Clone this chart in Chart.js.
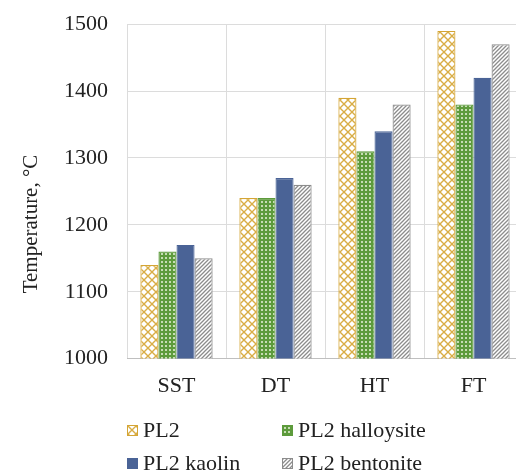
<!DOCTYPE html>
<html>
<head>
<meta charset="utf-8">
<script src="https://cdn.jsdelivr.net/npm/chart.js@4"></script>
<style>
  body { margin: 0; background: #fff; overflow: hidden; }
  #wrap { position: relative; width: 516px; height: 474px; overflow: hidden; }
  #grafica { position: absolute; left: 0; top: -8px; }
  #legend { position: absolute; left: 0; top: 0; width: 516px; height: 474px;
    font-family: "Liberation Serif", serif; font-size: 22px; color: #222; }
  .item { position: absolute; display: flex; align-items: center; white-space: nowrap; height: 26px; }
  .sw { width: 11px; height: 11px; margin-right: 5px; box-sizing: border-box; }
  #tituloY { position: absolute; left: 30px; top: 224px; transform: translate(-50%, -50%) rotate(-90deg);
    white-space: nowrap; font-family: "Liberation Serif", serif; font-size: 21px; color: #222; }
</style>
</head>
<body>
<div id="wrap">
  <canvas id="grafica" width="540" height="474"></canvas>
  <div id="legend"></div>
  <div id="tituloY"></div>
</div>
<script>
const categorias = ["SST", "DT", "HT", "FT"];
const pl2 = [1140, 1240, 1390, 1490];
const pl2Halloysite = [1160, 1240, 1310, 1380];
const pl2Kaolin = [1170, 1270, 1340, 1420];
const pl2Bentonite = [1150, 1260, 1380, 1470];
const ticksY = [1000, 1100, 1200, 1300, 1400, 1500];
const tituloEjeY = "Temperature, °C";

function crearTile(size, dibujar) {
    const c = document.createElement("canvas");
    c.width = size;
    c.height = size;
    dibujar(c.getContext("2d"), size);
    return c;
}

// rombos dorados
const tilePL2 = crearTile(8, (g, s) => {
    g.fillStyle = "#fff";
    g.fillRect(0, 0, s, s);
    g.strokeStyle = "#d9ad45";
    g.lineWidth = 1.4;
    g.beginPath();
    g.moveTo(0, 0); g.lineTo(s, s);
    g.moveTo(s, 0); g.lineTo(0, s);
    g.stroke();
});

// puntos claros sobre verde
const tileHall = crearTile(4, (g, s) => {
    g.fillStyle = "#5d9b3c";
    g.fillRect(0, 0, s, s);
    g.fillStyle = "#c7ddb5";
    g.fillRect(1, 1, 2, 2);
});

// rayas diagonales grises
const tileBent = crearTile(4, (g, s) => {
    g.fillStyle = "#fff";
    g.fillRect(0, 0, s, s);
    g.strokeStyle = "#8c8c8c";
    g.lineWidth = 1.3;
    g.beginPath();
    g.moveTo(-1, s + 1); g.lineTo(s + 1, -1);
    g.moveTo(-1, 1); g.lineTo(1, -1);
    g.moveTo(s - 1, s + 1); g.lineTo(s + 1, s - 1);
    g.stroke();
});

const ctx = document.getElementById("grafica").getContext("2d");
const patPL2 = ctx.createPattern(tilePL2, "repeat");
const patHall = ctx.createPattern(tileHall, "repeat");
const patBent = ctx.createPattern(tileBent, "repeat");

const series = [
    { label: "PL2", data: pl2, fill: patPL2, borde: "#d4a535", tile: tilePL2 },
    { label: "PL2 halloysite", data: pl2Halloysite, fill: patHall, borde: "#5d9b3c", tile: tileHall },
    { label: "PL2 kaolin", data: pl2Kaolin, fill: "#4a6396", borde: "#4a6396", tile: null },
    { label: "PL2 bentonite", data: pl2Bentonite, fill: patBent, borde: "#8c8c8c", tile: tileBent }
];

const fuente = { family: "Liberation Serif", size: 22 };

new Chart(ctx, {
    type: "bar",
    data: {
        labels: categorias,
        datasets: series.map(s => ({
            label: s.label,
            data: s.data,
            backgroundColor: s.fill,
            borderColor: s.borde,
            borderWidth: 1.2,
            borderSkipped: "bottom",
            categoryPercentage: 0.73,
            barPercentage: 1.0
        }))
    },
    options: {
        responsive: false,
        animation: false,
        layout: { padding: { top: 3, right: 17, bottom: 53, left: 45 } },
        plugins: {
            legend: { display: false },
            tooltip: { enabled: false }
        },
        scales: {
            x: {
                grid: { color: "#dcdcdc", drawTicks: false },
                border: { color: "#bfbfbf" },
                ticks: { color: "#222", font: fuente, padding: 14 }
            },
            y: {
                min: ticksY[0],
                max: ticksY[ticksY.length - 1],
                afterBuildTicks: axis => { axis.ticks = ticksY.map(v => ({ value: v })); },
                grid: { color: "#dcdcdc", drawTicks: false },
                border: { display: false },
                ticks: { color: "#222", font: fuente, padding: 19, callback: v => String(v) }
            }
        }
    }
});

document.getElementById("tituloY").textContent = tituloEjeY;

const legend = document.getElementById("legend");
const posiciones = [[127, 417], [282, 417], [127, 450], [282, 450]];
series.forEach((s, i) => {
    const item = document.createElement("div");
    item.className = "item";
    item.style.left = posiciones[i][0] + "px";
    item.style.top = posiciones[i][1] + "px";
    const sw = document.createElement("span");
    sw.className = "sw";
    if (s.tile) {
        sw.style.backgroundImage = "url(" + s.tile.toDataURL() + ")";
        sw.style.border = "1px solid " + s.borde;
    } else {
        sw.style.background = s.fill;
    }
    item.appendChild(sw);
    item.appendChild(document.createTextNode(s.label));
    legend.appendChild(item);
});
</script>
</body>
</html>
